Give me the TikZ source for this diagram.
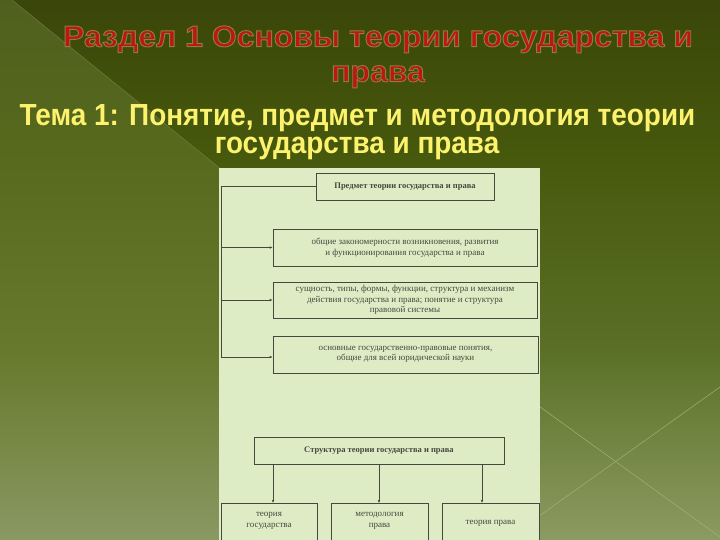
\documentclass[tikz,border=0pt]{standalone}
\usepackage{fontspec}
\setmainfont{Liberation Serif}
\newfontfamily\headfont{Liberation Sans}
\newfontfamily\boxfont{Liberation Serif}
\usetikzlibrary{arrows.meta,calc}
\definecolor{titlered}{RGB}{188,22,22}
\definecolor{subyellow}{RGB}{252,242,110}
\definecolor{paper}{RGB}{222,236,198}
\definecolor{ink}{RGB}{70,72,60}
\definecolor{xline}{RGB}{160,178,115}
\definecolor{diagedge}{RGB}{110,125,60}
\pgfdeclareverticalshading{bgshade}{100bp}{%
  rgb(0bp)=(0.549,0.608,0.384);
  rgb(25bp)=(0.549,0.608,0.384);
  rgb(42.6bp)=(0.353,0.439,0.149);
  rgb(61.1bp)=(0.275,0.345,0.047);
  rgb(75bp)=(0.227,0.275,0.039);
  rgb(100bp)=(0.227,0.275,0.039)}
\pgfdeclareverticalshading{leftshade}{100bp}{%
  rgb(0bp)=(0.541,0.596,0.384);
  rgb(25bp)=(0.541,0.596,0.384);
  rgb(42.6bp)=(0.4,0.475,0.173);
  rgb(61.1bp)=(0.337,0.412,0.110);
  rgb(75bp)=(0.314,0.373,0.118);
  rgb(100bp)=(0.314,0.373,0.118)}
\tikzset{
  bx/.style={draw=ink, line width=0.6pt, inner sep=0pt, align=center,
    font=\boxfont\fontsize{9}{10.5}\selectfont, text=ink},
  arr/.style={draw=ink, line width=0.6pt, -{Latex[length=3pt,width=2.6pt]}},
  ln/.style={draw=ink, line width=0.6pt},
  ttl/.style={font=\headfont\bfseries\fontsize{30}{30}\selectfont, inner sep=0pt, anchor=base, text=titlered},
  sub/.style={font=\headfont\bfseries\fontsize{30.5}{30.5}\selectfont, text=subyellow, inner sep=0pt, anchor=base}
}
\newcommand{\outlined}[1]{\special{pdf:code q 2 Tr 0.9 w 0.55 0.50 0.22 RG}#1\special{pdf:code Q}}
\begin{document}
\begin{tikzpicture}[x=1pt,y=-1pt]
\useasboundingbox (0,0) rectangle (720,540);
\clip (0,0) rectangle (720,540);
% background
\shade[shading=bgshade] (0,0) rectangle (720,540);
\shade[shading=leftshade] (0,0) -- (12,0) -- (222,170) -- (222,540) -- (0,540) -- cycle;
\draw[diagedge, line width=0.5pt] (12,0) -- (222,170);
\draw[xline, line width=0.5pt] (500,378) -- (720,537);
\draw[xline, line width=0.5pt] (500,544) -- (720,387);
% paper
\fill[paper] (219,168) rectangle (540,545);
% titles
\node[ttl] (t1) at (378,46.7) {\scalebox{1.065}[1]{\outlined{Раздел 1 Основы теории государства и}}};
\node[ttl] (t2) at (378,81.7) {\scalebox{1.065}[1]{\outlined{права}}};
\node[sub] (s1) at (357.5,126) {\scalebox{0.915}[1]{Тема 1: Понятие, предмет и методология теории}};
\node[sub] (s2) at (357,154) {\scalebox{0.915}[1]{государства и права}};
% diagram boxes
\node[bx, minimum width=178, minimum height=27, font=\boxfont\bfseries\fontsize{8.5}{10}\selectfont] (p) at (405,186.5) {Предмет теории государства и права};
\node[bx, minimum width=264, minimum height=37] (b2) at (405,247.5) {общие закономерности возникновения, развития\\и функционирования государства и права};
\node[bx, minimum width=264, minimum height=36] (b3) at (405,300) {сущность, типы, формы, функции, структура и механизм\\действия государства и права; понятие и структура\\правовой системы};
\node[bx, minimum width=265, minimum height=37] (b4) at (405.5,354.5) {основные государственно-правовые понятия,\\общие для всей юридической науки};
\node[bx, minimum width=250, minimum height=27, font=\boxfont\bfseries\fontsize{8.5}{10}\selectfont] (s) at (379,450.5) {Структура теории государства и права};
\node[bx, minimum width=96, minimum height=50, anchor=north] (c1) at (269,503) {};
\node[bx, minimum width=97, minimum height=50, anchor=north] (c2) at (379.5,503) {};
\node[bx, minimum width=97, minimum height=50, anchor=north] (c3) at (490.5,503) {};
\node[bx, draw=none, anchor=center] (c1t) at (269,521) {теория\\государства};
\node[bx, draw=none, anchor=center] (c2t) at (379.5,521) {методология\\права};
\node[bx, draw=none, anchor=center] (c3t) at (490.5,523) {теория права};
% connectors
\coordinate (jt) at (221,186.5);
\coordinate (jb) at (221,357);
\draw[ln] (p.west) -- (jt) -- (jb);
\draw[arr] (jt |- b2.west) -- (b2.west);
\draw[arr] (jt |- b3.west) -- (b3.west);
\draw[arr] (jb) -- (jb -| b4.west);
\coordinate (xa) at (273,0);
\coordinate (xc) at (482,0);
\draw[arr] (s.south -| xa) -- (c1.north -| xa);
\draw[arr, line width=0.4pt] (s.south) -- (s.south |- c2.north);
\draw[arr] (s.south -| xc) -- (c3.north -| xc);
\end{tikzpicture}
\end{document}
